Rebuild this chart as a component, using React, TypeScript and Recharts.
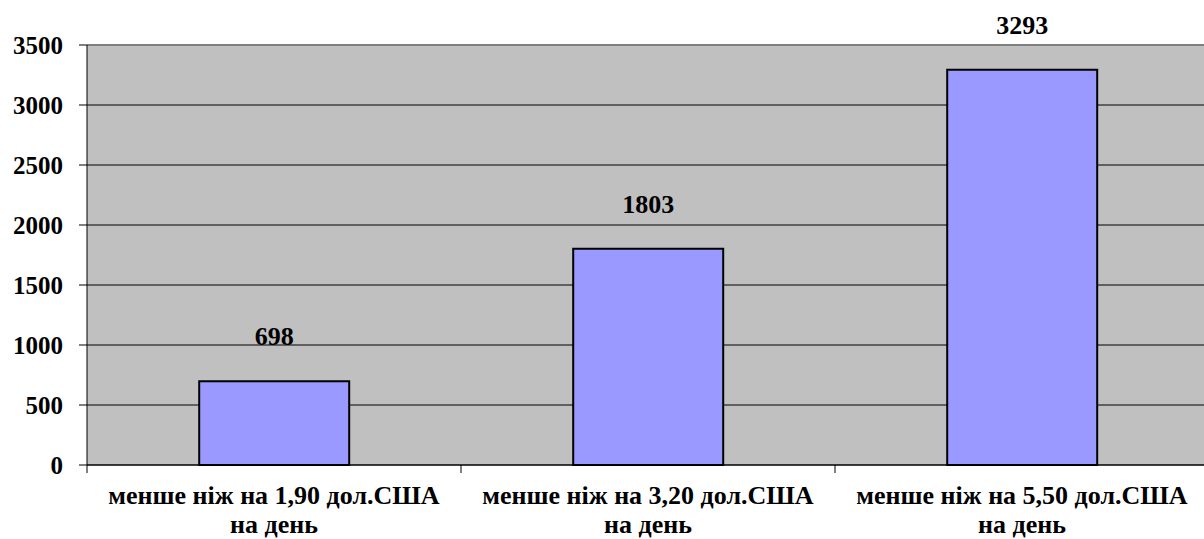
import { BarChart, Bar, XAxis, YAxis, CartesianGrid, ReferenceLine, LabelList } from "recharts";

const categories = ["менше ніж на 1,90 дол.США", "менше ніж на 3,20 дол.США", "менше ніж на 5,50 дол.США"];
const categorySub = ["на день", "на день", "на день"];
const values = [698, 1803, 3293];
const yTicks = [0, 500, 1000, 1500, 2000, 2500, 3000, 3500];

const data = categories.map((name, i) => ({ name, sub: categorySub[i], value: values[i] }));

const FONT = "Liberation Serif, Times New Roman, DejaVu Serif, serif";
const CHART_W = 1209;
const Y_W = 87;
const BAND = (CHART_W - Y_W) / categories.length;
const txtStyle = { fontFamily: FONT, fontWeight: 700, fontSize: 25 };
const catStyle = { ...txtStyle, fontSize: 26 };
const valStyle = { ...txtStyle, fontSize: 26 };

const XTick = ({ x, y, payload, index }: any) => {
  const d = data[index] || data.find((r) => r.name === payload.value);
  return (
    <g>
      <line x1={x - BAND / 2} y1={y - 8} x2={x - BAND / 2} y2={y} stroke="#000" strokeWidth={1} />
      <text x={x} y={y + 31} textAnchor="middle" style={catStyle} fill="#000">
        {payload.value}
      </text>
      <text x={x} y={y + 60} textAnchor="middle" style={catStyle} fill="#000">
        {d ? d.sub : ""}
      </text>
    </g>
  );
};

const ValueLabel = ({ x, y, width, value }: any) => (
  <text x={x + width / 2} y={y - 36} textAnchor="middle" style={valStyle} fill="#000">
    {value}
  </text>
);

export default function App() {
  return (
    <div style={{ position: "absolute", left: 0, top: 0, width: 1204, height: 539, overflow: "hidden", background: "#fff" }}>
      <BarChart
        width={CHART_W}
        height={539}
        data={data}
        margin={{ top: 45, right: 0, left: 0, bottom: 0 }}
        barCategoryGap="30%"
      >
        <CartesianGrid fill="#C0C0C0" fillOpacity={1} stroke="#000" vertical={false} />
        <ReferenceLine y={3500} stroke="#808080" strokeWidth={2} />
        <XAxis
          dataKey="name"
          height={74}
          interval={0}
          axisLine={{ stroke: "#000" }}
          tickLine={false}
          tick={<XTick />}
        />
        <YAxis
          width={Y_W}
          domain={[0, 3500]}
          ticks={yTicks}
          interval={0}
          axisLine={{ stroke: "#000" }}
          tickLine={{ stroke: "#000" }}
          tickSize={8}
          tickMargin={16}
          tick={{ style: txtStyle, fill: "#000" }}
        />
        <Bar dataKey="value" fill="#9999FF" stroke="#000" strokeWidth={2} isAnimationActive={false}>
          <LabelList dataKey="value" content={<ValueLabel />} />
        </Bar>
      </BarChart>
    </div>
  );
}
